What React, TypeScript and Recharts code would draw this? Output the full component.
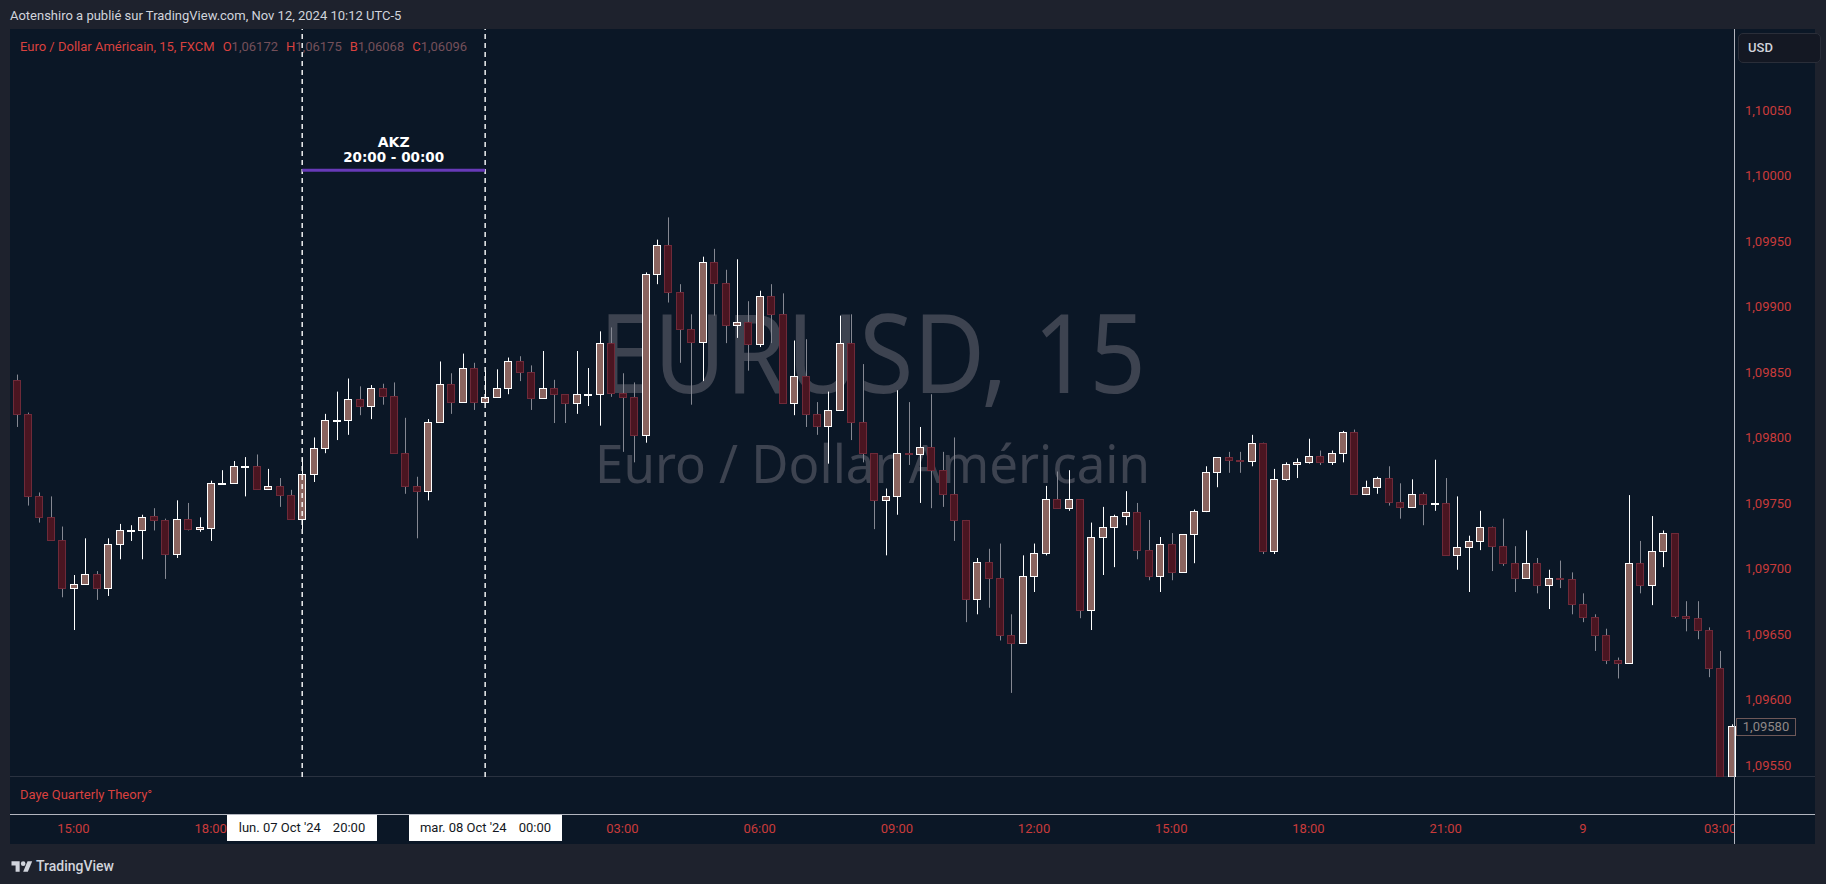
import React from 'react';
import { ComposedChart, Bar, XAxis, YAxis, ReferenceLine, Label } from 'recharts';

// ---- Data (EURUSD, 15 min, from lun. 07 Oct '24 13:45) ----
const opens = [
  1.09844, 1.09818, 1.09755, 1.09739, 1.09722, 1.09685, 1.09688, 1.09696, 1.09685, 1.09719,
  1.09729, 1.09729, 1.09740, 1.09737, 1.09711, 1.09738, 1.09730, 1.09731, 1.09765, 1.09765,
  1.09778, 1.09778, 1.09761, 1.09763, 1.09756, 1.09738, 1.09772, 1.09792, 1.09813, 1.09813,
  1.09829, 1.09824, 1.09838, 1.09832, 1.09788, 1.09763, 1.09759, 1.09812, 1.09841, 1.09827,
  1.09853, 1.09827, 1.09831, 1.09838, 1.09858, 1.09850, 1.09830, 1.09838, 1.09833, 1.09826,
  1.09833, 1.09833, 1.09872, 1.09834, 1.09831, 1.09802, 1.09925, 1.09947, 1.09911, 1.09883,
  1.09873, 1.09934, 1.09918, 1.09886, 1.09888, 1.09871, 1.09908, 1.09894, 1.09826, 1.09847,
  1.09818, 1.09809, 1.09821, 1.09872, 1.09812, 1.09788, 1.09752, 1.09755, 1.09788, 1.09787,
  1.09793, 1.09775, 1.09757, 1.09737, 1.09677, 1.09705, 1.09693, 1.09649, 1.09643, 1.09694,
  1.09712, 1.09753, 1.09746, 1.09753, 1.09668, 1.09724, 1.09732, 1.09740, 1.09743, 1.09714,
  1.09694, 1.09719, 1.09697, 1.09726, 1.09744, 1.09774, 1.09785, 1.09783, 1.09782, 1.09796,
  1.09713, 1.09768, 1.09780, 1.09781, 1.09786, 1.09781, 1.09788, 1.09804, 1.09757, 1.09762,
  1.09769, 1.09751, 1.09747, 1.09757, 1.09750, 1.09750, 1.09710, 1.09716, 1.09721, 1.09732,
  1.09717, 1.09704, 1.09693, 1.09704, 1.09687, 1.09693, 1.09692, 1.09673, 1.09663, 1.09649,
  1.09630, 1.09628, 1.09704, 1.09687, 1.09713, 1.09727, 1.09664, 1.09662, 1.09653, 1.09624,
  1.09535,
];
const highs = [
  1.09848, 1.09819, 1.09758, 1.09755, 1.09732, 1.09695, 1.09723, 1.09698, 1.09723, 1.09734,
  1.09733, 1.09741, 1.09746, 1.09738, 1.09752, 1.09750, 1.09739, 1.09767, 1.09775, 1.09782,
  1.09785, 1.09787, 1.09776, 1.09769, 1.09760, 1.09784, 1.09800, 1.09818, 1.09835, 1.09845,
  1.09839, 1.09840, 1.09841, 1.09842, 1.09815, 1.09770, 1.09814, 1.09858, 1.09849, 1.09864,
  1.09857, 1.09851, 1.09852, 1.09861, 1.09862, 1.09855, 1.09866, 1.09844, 1.09833, 1.09866,
  1.09853, 1.09881, 1.09884, 1.09849, 1.09842, 1.09926, 1.09951, 1.09968, 1.09917, 1.09894,
  1.09938, 1.09944, 1.09928, 1.09936, 1.09904, 1.09912, 1.09917, 1.09910, 1.09874, 1.09875,
  1.09827, 1.09835, 1.09893, 1.09894, 1.09856, 1.09788, 1.09761, 1.09836, 1.09827, 1.09808,
  1.09833, 1.09789, 1.09800, 1.09737, 1.09708, 1.09715, 1.09719, 1.09665, 1.09710, 1.09719,
  1.09763, 1.09774, 1.09775, 1.09753, 1.09735, 1.09747, 1.09741, 1.09759, 1.09750, 1.09737,
  1.09724, 1.09727, 1.09726, 1.09745, 1.09778, 1.09785, 1.09789, 1.09789, 1.09802, 1.09796,
  1.09776, 1.09781, 1.09784, 1.09799, 1.09790, 1.09790, 1.09805, 1.09806, 1.09767, 1.09770,
  1.09778, 1.09765, 1.09768, 1.09758, 1.09783, 1.09769, 1.09755, 1.09725, 1.09744, 1.09732,
  1.09738, 1.09717, 1.09729, 1.09708, 1.09699, 1.09706, 1.09697, 1.09681, 1.09665, 1.09654,
  1.09632, 1.09756, 1.09721, 1.09740, 1.09729, 1.09727, 1.09675, 1.09675, 1.09655, 1.09637,
  1.09581,
];
const lows = [
  1.09808, 1.09748, 1.09735, 1.09721, 1.09678, 1.09653, 1.09688, 1.09676, 1.09679, 1.09707,
  1.09721, 1.09707, 1.09729, 1.09692, 1.09708, 1.09729, 1.09728, 1.09721, 1.09765, 1.09765,
  1.09755, 1.09760, 1.09760, 1.09747, 1.09738, 1.09730, 1.09766, 1.09788, 1.09798, 1.09802,
  1.09817, 1.09814, 1.09825, 1.09788, 1.09757, 1.09723, 1.09752, 1.09812, 1.09818, 1.09827,
  1.09821, 1.09827, 1.09831, 1.09833, 1.09843, 1.09821, 1.09830, 1.09811, 1.09811, 1.09818,
  1.09824, 1.09809, 1.09831, 1.09789, 1.09781, 1.09796, 1.09917, 1.09903, 1.09857, 1.09825,
  1.09843, 1.09893, 1.09872, 1.09876, 1.09851, 1.09869, 1.09872, 1.09826, 1.09817, 1.09808,
  1.09802, 1.09780, 1.09821, 1.09798, 1.09781, 1.09730, 1.09710, 1.09741, 1.09779, 1.09750,
  1.09746, 1.09747, 1.09721, 1.09659, 1.09665, 1.09670, 1.09645, 1.09605, 1.09643, 1.09682,
  1.09710, 1.09746, 1.09744, 1.09662, 1.09653, 1.09695, 1.09701, 1.09733, 1.09707, 1.09691,
  1.09682, 1.09691, 1.09697, 1.09704, 1.09743, 1.09762, 1.09773, 1.09773, 1.09778, 1.09711,
  1.09711, 1.09767, 1.09769, 1.09780, 1.09779, 1.09779, 1.09781, 1.09757, 1.09756, 1.09757,
  1.09748, 1.09738, 1.09747, 1.09733, 1.09744, 1.09710, 1.09699, 1.09682, 1.09714, 1.09698,
  1.09702, 1.09682, 1.09693, 1.09681, 1.09669, 1.09685, 1.09665, 1.09659, 1.09637, 1.09627,
  1.09616, 1.09628, 1.09681, 1.09672, 1.09701, 1.09662, 1.09652, 1.09646, 1.09617, 1.09530,
  1.09530,
];
const closes = [
  1.09818, 1.09755, 1.09739, 1.09722, 1.09685, 1.09688, 1.09696, 1.09685, 1.09719, 1.09729,
  1.09729, 1.09739, 1.09737, 1.09711, 1.09738, 1.09730, 1.09732, 1.09765, 1.09765, 1.09778,
  1.09778, 1.09761, 1.09763, 1.09756, 1.09738, 1.09772, 1.09792, 1.09813, 1.09813, 1.09829,
  1.09824, 1.09838, 1.09832, 1.09788, 1.09763, 1.09759, 1.09812, 1.09841, 1.09827, 1.09853,
  1.09827, 1.09831, 1.09838, 1.09858, 1.09850, 1.09830, 1.09838, 1.09833, 1.09826, 1.09833,
  1.09833, 1.09872, 1.09834, 1.09831, 1.09802, 1.09925, 1.09947, 1.09911, 1.09883, 1.09873,
  1.09934, 1.09918, 1.09886, 1.09888, 1.09871, 1.09908, 1.09894, 1.09826, 1.09847, 1.09818,
  1.09809, 1.09821, 1.09872, 1.09812, 1.09788, 1.09752, 1.09755, 1.09788, 1.09787, 1.09793,
  1.09775, 1.09757, 1.09737, 1.09677, 1.09705, 1.09693, 1.09649, 1.09643, 1.09694, 1.09712,
  1.09753, 1.09746, 1.09753, 1.09668, 1.09724, 1.09732, 1.09740, 1.09743, 1.09714, 1.09694,
  1.09719, 1.09697, 1.09726, 1.09744, 1.09774, 1.09785, 1.09783, 1.09782, 1.09796, 1.09713,
  1.09768, 1.09780, 1.09781, 1.09786, 1.09781, 1.09788, 1.09804, 1.09757, 1.09762, 1.09769,
  1.09751, 1.09747, 1.09757, 1.09749, 1.09750, 1.09710, 1.09716, 1.09721, 1.09732, 1.09717,
  1.09704, 1.09693, 1.09704, 1.09687, 1.09693, 1.09692, 1.09673, 1.09663, 1.09649, 1.09630,
  1.09628, 1.09704, 1.09687, 1.09713, 1.09727, 1.09664, 1.09662, 1.09653, 1.09624, 1.09535,
  1.09580,
];

const timeTickIdx = [5, 17, 53, 65, 77, 89, 101, 113, 125, 137, 149];
const timeTickLabels = ['15:00', '18:00', '03:00', '06:00', '09:00', '12:00', '15:00', '18:00', '21:00', '9', '03:00'];
const priceTicks = [1.0955, 1.096, 1.0965, 1.097, 1.0975, 1.098, 1.0985, 1.099, 1.0995, 1.1, 1.1005];
const priceDomain: [number, number] = [1.095408, 1.101118];
const sessionStartIdx = 25;
const sessionEndIdx = 41;
const sessionLabel = 'AKZ';
const sessionRange = '20:00 - 00:00';
const sessionLevel = 1.10004;
const startDateLabel = ["lun. 07 Oct '24", '20:00'];
const endDateLabel = ["mar. 08 Oct '24", '00:00'];
const legendTitle = 'Euro / Dollar Américain, 15, FXCM';
const legendValues = [
  ['O', '1,06172'],
  ['H', '1,06175'],
  ['B', '1,06068'],
  ['C', '1,06096'],
];

const data = opens.map((o, i) => ({ i, o, h: highs[i], l: lows[i], c: closes[i] }));

const fmtPrice = (v: number) => v.toFixed(5).replace('.', ',');

const BG = '#1e222d';
const PANE = '#0b1726';
const RED = '#c93b3b';
const UP_FILL = '#8a645f';
const UP_LINE = '#ffffff';
const DN_FILL = '#4a1521';
const DN_LINE = '#6e2a39';
const DN_WICK = '#858892';
const FONT = 'Roboto, "Noto Sans", sans-serif';

const Candle = (props: any) => {
  const { x, y, width, height, payload, background } = props;
  if (!payload || typeof x !== 'number' || typeof y !== 'number') return <g />;
  const { o, h, l, c } = payload;
  const top = Math.min(y, y + height);
  const bot = Math.max(y, y + height);
  const span = h - l || 1e-9;
  const py = (p: number) => top + ((h - p) / span) * (bot - top);
  const minY = background ? background.y : -1e9;
  const maxY = background ? background.y + background.height : 1e9;
  const clamp = (v: number) => Math.max(minY, Math.min(maxY, v));
  const n = Math.round(x + width / 2);
  const cx = n + 0.5;
  const up = c >= o;
  const bTop = Math.round(py(Math.max(o, c))) + 0.5;
  const bBot = Math.round(py(Math.min(o, c))) + 0.5;
  const yA = clamp(bTop);
  const yB = clamp(bBot);
  return (
    <g>
      <line x1={cx} x2={cx} y1={clamp(top)} y2={clamp(bot)} stroke={up ? UP_LINE : DN_WICK} strokeWidth={1} />
      {yA < maxY && (
        <rect
          x={n - 3.5}
          y={yA}
          width={7}
          height={Math.max(yB - yA, 1)}
          fill={up ? UP_FILL : DN_FILL}
          stroke={up ? UP_LINE : DN_LINE}
          strokeWidth={1}
        />
      )}
    </g>
  );
};

const abs = (s: React.CSSProperties): React.CSSProperties => ({ position: 'absolute', ...s });

export default function App() {
  return (
    <div style={abs({ left: 0, top: 0, width: 1826, height: 884, background: BG, overflow: 'hidden', fontFamily: FONT })}>
      <div style={abs({ left: 10, top: 7, fontSize: 13, lineHeight: '17px', color: '#d1d4dc' })}>
        Aotenshiro a publié sur TradingView.com, Nov 12, 2024 10:12 UTC-5
      </div>
      <div style={abs({ left: 10, top: 29, width: 1805, height: 815, background: PANE })} />

      {/* watermark */}
      <svg width={1826} height={884} style={abs({ left: 0, top: 0 })}>
        <text x={599} y={393} fontSize={110} fill="#3d4350" fontFamily='"Noto Sans", sans-serif' textLength={547} lengthAdjust="spacingAndGlyphs">
          EURUSD, 15
        </text>
        <text x={595} y={483} fontSize={53} fill="#3d4350" fontFamily='"Noto Sans", sans-serif' textLength={555} lengthAdjust="spacingAndGlyphs">
          Euro / Dollar Américain
        </text>
      </svg>

      <div style={abs({ left: 20, top: 39, fontSize: 13, lineHeight: '16px', color: '#d9413f', whiteSpace: 'pre', display: 'flex' })}>
        <span>{legendTitle}</span>
        {legendValues.map(([k, v]) => (
          <span key={k} style={{ marginLeft: 8 }}>
            <span style={{ color: '#d9413f' }}>{k}</span>
            <span style={{ color: '#74505a' }}>{v}</span>
          </span>
        ))}
      </div>

      <div style={abs({ left: 20, top: 787, fontSize: 13, lineHeight: '16px', color: '#d9413f' })}>Daye Quarterly Theory°</div>
      <div style={abs({ left: 10, top: 776, width: 1805, height: 1, background: '#2a3240' })} />

      <div style={abs({ left: 0, top: 0 })}>
        <ComposedChart width={1826} height={884} data={data} margin={{ top: 29, right: 11, bottom: 47, left: 10.6 }}>
          <XAxis
            dataKey="i"
            type="number"
            domain={[-0.5, 150.3]}
            ticks={timeTickIdx}
            interval={0}
            tickFormatter={(v: number) => timeTickLabels[timeTickIdx.indexOf(v)] ?? ''}
            axisLine={false}
            tickLine={false}
            tickSize={0}
            tickMargin={47}
            height={60}
            tick={{ fill: RED, fontSize: 13, fontFamily: FONT }}
          />
          <YAxis
            type="number"
            orientation="right"
            domain={priceDomain}
            allowDataOverflow
            ticks={priceTicks}
            interval={0}
            tickFormatter={fmtPrice}
            axisLine={false}
            tickLine={false}
            tickSize={0}
            tickMargin={10}
            width={80}
            tick={{ fill: RED, fontSize: 13, fontFamily: FONT }}
          />
          <ReferenceLine x={sessionStartIdx} stroke="#ffffff" strokeDasharray="5 4" strokeWidth={1.4} />
          <ReferenceLine x={sessionEndIdx} stroke="#ffffff" strokeDasharray="5 4" strokeWidth={1.4} />
          <ReferenceLine
            segment={[
              { x: sessionStartIdx, y: sessionLevel },
              { x: sessionEndIdx, y: sessionLevel },
            ]}
            stroke="#673ab7"
            strokeWidth={3}
          >
            <Label value={sessionLabel} position="top" offset={23} fill="#ffffff" fontSize={14} fontWeight="bold" fontFamily='"DejaVu Sans", sans-serif' />
            <Label value={sessionRange} position="top" offset={8} fill="#ffffff" fontSize={13.5} fontWeight="bold" fontFamily='"DejaVu Sans", sans-serif' />
          </ReferenceLine>
          <Bar dataKey={(d: any) => [d.l, d.h]} barSize={8} shape={<Candle />} isAnimationActive={false} />
        </ComposedChart>
      </div>

      {/* cover of time row below price scale */}
      <div style={abs({ left: 1735, top: 815, width: 80, height: 29, background: PANE })} />

      {/* date labels of the session lines */}
      {[
        { left: 227, width: 150, lbl: startDateLabel },
        { left: 409, width: 153, lbl: endDateLabel },
      ].map((b, k) => (
        <div
          key={k}
          style={abs({
            left: b.left,
            top: 814,
            width: b.width,
            height: 27,
            background: '#ffffff',
            color: '#131722',
            fontSize: 13,
            lineHeight: '27px',
            display: 'flex',
            justifyContent: 'center',
            whiteSpace: 'pre',
          })}
        >
          <span>{b.lbl[0]}</span>
          <span style={{ marginLeft: 12 }}>{b.lbl[1]}</span>
        </div>
      ))}

      {/* crosshair */}
      <div style={abs({ left: 10, top: 813.5, width: 1805, height: 1, background: '#b2b5be' })} />
      <div style={abs({ left: 1734, top: 29, width: 1, height: 815, background: '#b2b5be' })} />

      {/* last price label */}
      <div
        style={abs({
          left: 1736,
          top: 718,
          width: 58,
          height: 16,
          border: '1px solid #6e5858',
          color: '#8f8787',
          fontSize: 13,
          lineHeight: '16px',
          textAlign: 'center',
          background: PANE,
        })}
      >
        {fmtPrice(closes[closes.length - 1])}
      </div>

      {/* currency button */}
      <div
        style={abs({
          left: 1738,
          top: 33,
          width: 72,
          height: 28,
          border: '1px solid #2a2e39',
          borderRadius: 5,
          background: '#141823',
          color: '#d1d4dc',
          fontSize: 13,
          fontWeight: 500,
          lineHeight: '28px',
          paddingLeft: 9,
          boxSizing: 'content-box',
        })}
      >
        USD
      </div>

      {/* footer */}
      <div style={abs({ left: 11, top: 857, display: 'flex', alignItems: 'center', color: '#d1d4dc' })}>
        <svg width={22} height={14} viewBox="0 0 36 24">
          <path d="M14 22H7V11H0V4h14v18z" fill="#d1d4dc" />
          <circle cx={20} cy={8} r={4} fill="#d1d4dc" />
          <path d="M28 22h-8l7.5-18h8L28 22z" fill="#d1d4dc" />
        </svg>
        <span style={{ marginLeft: 3, fontSize: 14, fontWeight: 500, lineHeight: '18px' }}>TradingView</span>
      </div>
    </div>
  );
}
